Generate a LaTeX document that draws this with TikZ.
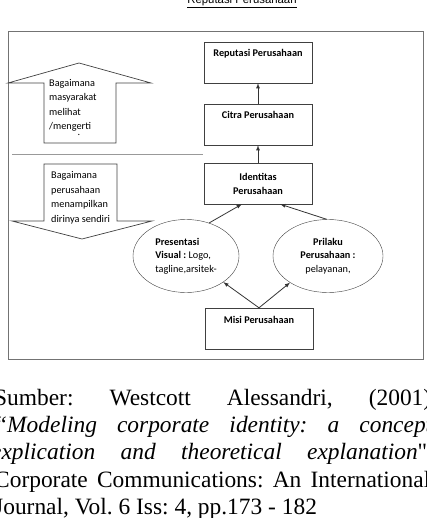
\documentclass[tikz,border=0pt]{standalone}
\usepackage{fontspec}
\setmainfont{Liberation Serif}[Ligatures=TeXOff]
\newfontfamily\calibri{Carlito}
\newfontfamily\arial{Liberation Sans}
\usetikzlibrary{arrows}
\usetikzlibrary{shapes}
\frenchspacing

\begin{document}
\begin{tikzpicture}[x=1bp,y=-1bp,>=latex,
		box/.style={draw=black!75,rectangle,inner sep=0pt,
			minimum width=108bp,minimum height=41bp,
			font=\calibri\fontsize{10.3}{14}\selectfont\bfseries,align=center},
		topbox/.style={box,text height=15bp,text depth=26bp},
		oval/.style={draw=black!75,ellipse,inner sep=0pt,minimum height=73bp,
			font=\calibri\fontsize{10.3}{13.5}\selectfont},
		blocktext/.style={inner sep=0pt,anchor=north west,align=left,
			font=\calibri\fontsize{10.3}{14.5}\selectfont},
		link/.style={->,draw=black!80,line width=0.8pt},
		cite/.style={inner sep=0pt,anchor=base west,
			font=\fontsize{23.5}{27}\selectfont}]
		\useasboundingbox (0,0) rectangle (426,518);
		\clip (0,0) rectangle (426,518);
		%% Heading
		\node[inner sep=0pt,anchor=base,font=\arial\fontsize{11.4}{13}\selectfont]
			(title) at (242,3.5) {\underline{Reputasi Perusahaan}};
		%% The frame and the dividing line
		\draw[black!55,line width=0.8pt] (8,31) rectangle (423,359);
		\draw[black!40,line width=0.8pt] (12,154) -- (203,154);
		%% The two block arrows on the left
		\draw[black!75,line width=0.7pt] (44,143) -- (44,83) -- (8,83) -- (79,63)
			-- (151,83) -- (116,83) -- (116,143) -- cycle; % up
		\draw[black!75,line width=0.7pt] (44,164) -- (117,164) -- (117,221) -- (152,221)
			-- (82,239) -- (12,221) -- (44,221) -- cycle; % down
		\node[blocktext] (lihat) at (49,79)
			{Bagaimana\\masyarakat\\melihat\\/mengerti};
		\node[inner sep=0pt,font=\calibri\fontsize{10.3}{12}\selectfont] (titik) at (79,135) {.};
		\node[blocktext] (tampil) at (51,171.5)
			{Bagaimana\\perusahaan\\menampilkan\\dirinya sendiri};
		%% The boxes
		\node[topbox] (reputasi)  at (258,62.5)  {Reputasi Perusahaan};
		\node[topbox] (citra)     at (258,124.5) {Citra Perusahaan};
		\node[box]    (identitas) at (258,183.5) {Identitas\\Perusahaan};
		\node[topbox] (misi)      at (259,328.5) {Misi Perusahaan};
		%% The two ovals
		\node[oval,minimum width=106bp,align=left] (visual) at (186,256)
			{\textbf{Presentasi}\\\textbf{Visual :} Logo,\\tagline,arsitek-};
		\node[oval,minimum width=110bp,align=center] (prilaku) at (328,256)
			{\textbf{Prilaku}\\\textbf{Perusahaan :}\\pelayanan,};
		%% Connecting with arrows
		\draw[link] (citra.north) -- (reputasi.south);
		\draw[link] (identitas.north) -- (citra.south);
		\draw[link] (visual.55) -- (identitas.-128);
		\draw[link] (prilaku.92) -- (identitas.-43);
		\draw[link] (misi.north) -- (visual.-35);
		\draw[link] (misi.north) -- (prilaku.-145);
		%% Source lines below the frame
		\node[cite] (src1) at (-6,405) {\makebox[437bp][s]{Sumber: Westcott Alessandri, (2001)}};
		\node[cite] (src2) at (-6,432) {\makebox[438bp][s]{\itshape “Modeling corporate identity: a concept}};
		\node[cite] (src3) at (-9,459) {\makebox[436bp][s]{\itshape explication and theoretical explanation\upshape"}};
		\node[cite] (src4) at (-6,487) {\makebox[436bp][s]{Corporate Communications: An International}};
		\node[cite] (src5) at (-6,514) {Journal, Vol. 6 Iss: 4, pp.173 - 182};
	\end{tikzpicture}
\end{document}
